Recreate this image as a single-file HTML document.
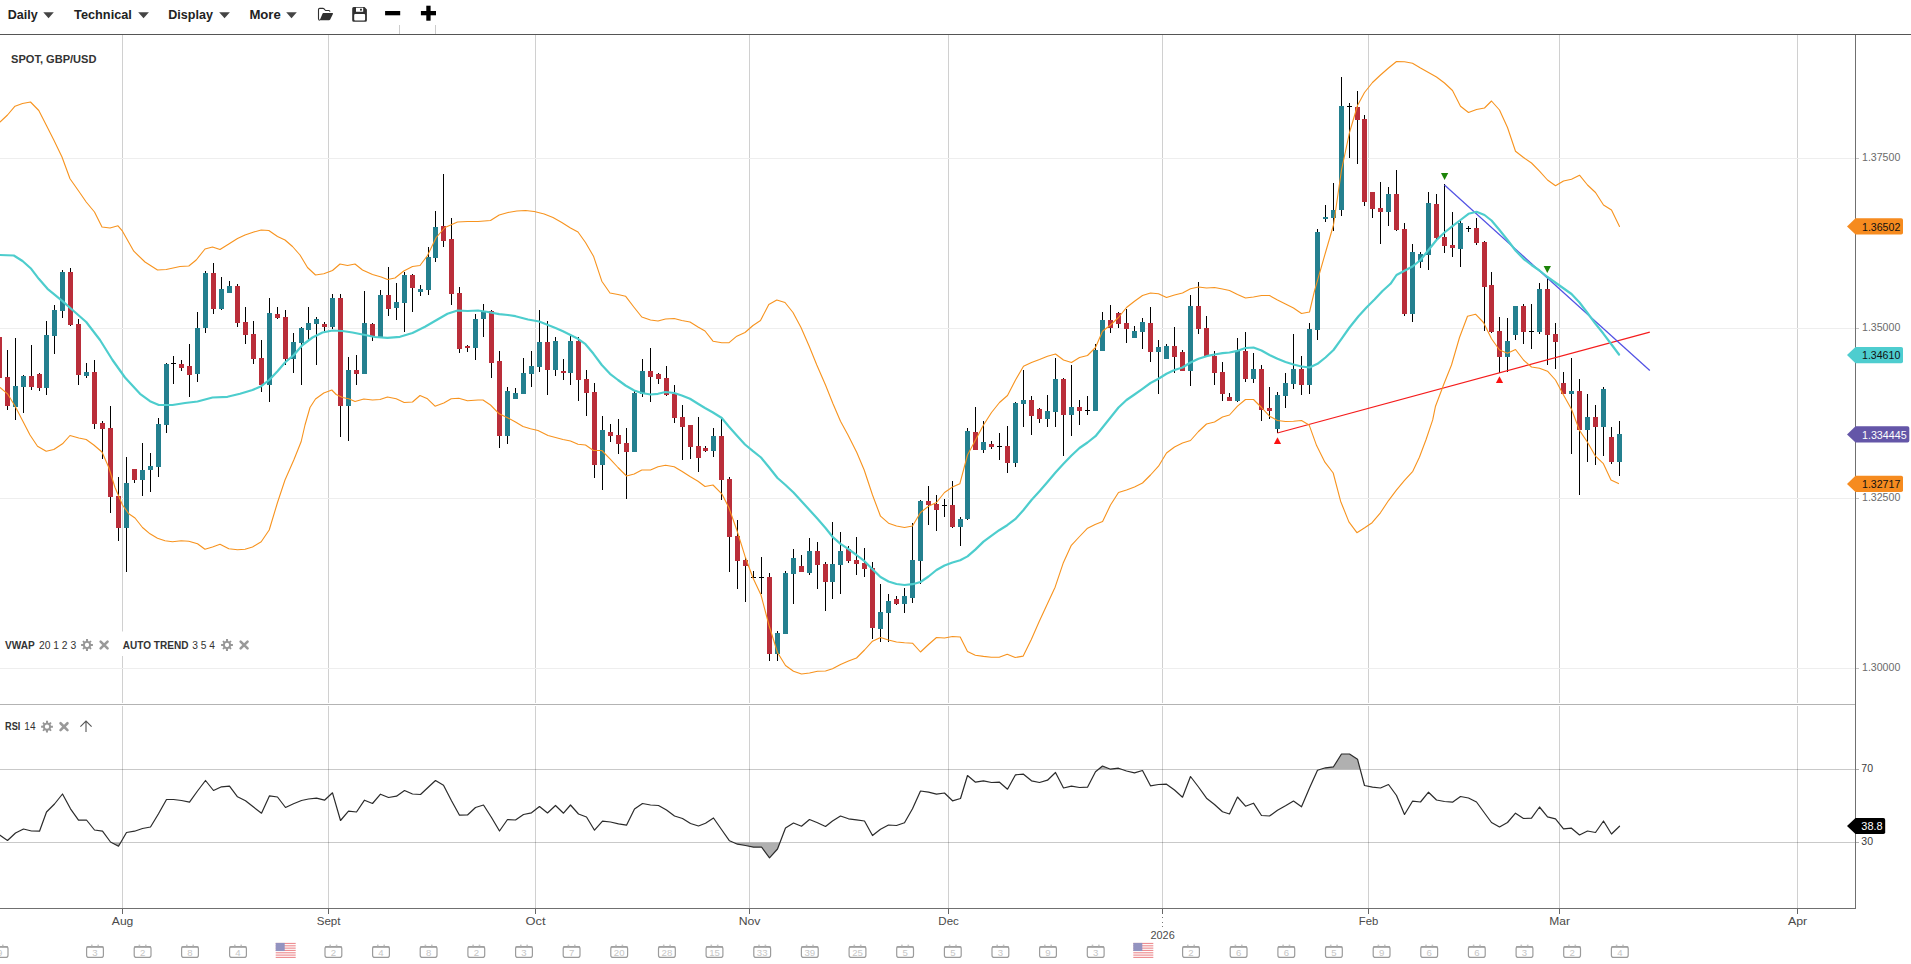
<!DOCTYPE html>
<html lang="en"><head><meta charset="utf-8"><title>SPOT, GBP/USD</title>
<style>html,body{margin:0;padding:0;background:#fff;}body{width:1911px;height:964px;position:relative;overflow:hidden;font-family:'Liberation Sans', sans-serif;}</style>
</head><body>
<svg width="1911" height="964" viewBox="0 0 1911 964" style="position:absolute;left:0;top:0;font-family:'Liberation Sans', sans-serif">
<rect width="1911" height="964" fill="#fff"/>
<g shape-rendering="crispEdges">
<rect x="122" y="35" width="1" height="668" fill="#d0d0d0"/>
<rect x="122" y="706" width="1" height="202" fill="#000" fill-opacity="0.185"/>
<rect x="122" y="909" width="1" height="5" fill="#666"/>
<rect x="328" y="35" width="1" height="668" fill="#d0d0d0"/>
<rect x="328" y="706" width="1" height="202" fill="#000" fill-opacity="0.185"/>
<rect x="328" y="909" width="1" height="5" fill="#666"/>
<rect x="535" y="35" width="1" height="668" fill="#d0d0d0"/>
<rect x="535" y="706" width="1" height="202" fill="#000" fill-opacity="0.185"/>
<rect x="535" y="909" width="1" height="5" fill="#666"/>
<rect x="749" y="35" width="1" height="668" fill="#d0d0d0"/>
<rect x="749" y="706" width="1" height="202" fill="#000" fill-opacity="0.185"/>
<rect x="749" y="909" width="1" height="5" fill="#666"/>
<rect x="948" y="35" width="1" height="668" fill="#d0d0d0"/>
<rect x="948" y="706" width="1" height="202" fill="#000" fill-opacity="0.185"/>
<rect x="948" y="909" width="1" height="5" fill="#666"/>
<rect x="1162" y="35" width="1" height="668" fill="#d0d0d0"/>
<rect x="1162" y="706" width="1" height="202" fill="#000" fill-opacity="0.185"/>
<rect x="1368" y="35" width="1" height="668" fill="#d0d0d0"/>
<rect x="1368" y="706" width="1" height="202" fill="#000" fill-opacity="0.185"/>
<rect x="1368" y="909" width="1" height="5" fill="#666"/>
<rect x="1559" y="35" width="1" height="668" fill="#d0d0d0"/>
<rect x="1559" y="706" width="1" height="202" fill="#000" fill-opacity="0.185"/>
<rect x="1559" y="909" width="1" height="5" fill="#666"/>
<rect x="1797" y="35" width="1" height="668" fill="#d0d0d0"/>
<rect x="1797" y="706" width="1" height="202" fill="#000" fill-opacity="0.185"/>
<rect x="1797" y="909" width="1" height="5" fill="#666"/>
<rect x="0" y="158" width="1855" height="1" fill="#eeeeee"/>
<rect x="1856" y="158" width="3" height="1" fill="#c4c4c4"/>
<rect x="0" y="328" width="1855" height="1" fill="#eeeeee"/>
<rect x="1856" y="328" width="3" height="1" fill="#c4c4c4"/>
<rect x="0" y="498" width="1855" height="1" fill="#eeeeee"/>
<rect x="1856" y="498" width="3" height="1" fill="#c4c4c4"/>
<rect x="0" y="668" width="1855" height="1" fill="#eeeeee"/>
<rect x="1856" y="668" width="3" height="1" fill="#c4c4c4"/>
<rect x="399" y="25" width="1" height="9" fill="#ccc"/><rect x="435" y="25" width="1" height="9" fill="#ccc"/>
<rect x="0" y="769" width="1855" height="1" fill="#000" fill-opacity="0.21"/>
<rect x="0" y="842" width="1855" height="1" fill="#000" fill-opacity="0.21"/>
<rect x="1856" y="769" width="3" height="1" fill="#b0b0b0"/><rect x="1856" y="842" width="3" height="1" fill="#b0b0b0"/>
<rect x="0" y="704" width="1856" height="1" fill="#b3b3b3"/>
<rect x="0" y="34" width="1911" height="1" fill="#555"/>
<rect x="1855" y="35" width="1" height="874" fill="#707070"/>
<rect x="0" y="908" width="1856" height="1" fill="#707070"/>
<rect x="1162" y="909" width="1" height="5" fill="#666"/>
<rect x="1162" y="917" width="1" height="1" fill="#777"/>
<rect x="1162" y="922" width="1" height="1" fill="#777"/>
<rect x="1162" y="926" width="1" height="1" fill="#777"/>
</g>
<g shape-rendering="crispEdges">
<rect x="-1" y="335" width="1" height="50" fill="#000"/>
<rect x="-3" y="337" width="5" height="41" fill="#ba2e3a"/>
<rect x="7" y="350" width="1" height="60" fill="#000"/>
<rect x="5" y="377" width="5" height="29" fill="#ba2e3a"/>
<rect x="15" y="338" width="1" height="82" fill="#000"/>
<rect x="13" y="386" width="5" height="21" fill="#24808f"/>
<rect x="23" y="375" width="1" height="38" fill="#000"/>
<rect x="21" y="376" width="5" height="11" fill="#24808f"/>
<rect x="31" y="345" width="1" height="45" fill="#000"/>
<rect x="29" y="376" width="5" height="11" fill="#ba2e3a"/>
<rect x="39" y="373" width="1" height="18" fill="#000"/>
<rect x="37" y="374" width="5" height="14" fill="#ba2e3a"/>
<rect x="46" y="321" width="1" height="74" fill="#000"/>
<rect x="44" y="335" width="5" height="53" fill="#24808f"/>
<rect x="54" y="305" width="1" height="49" fill="#000"/>
<rect x="52" y="310" width="5" height="26" fill="#24808f"/>
<rect x="62" y="270" width="1" height="48" fill="#000"/>
<rect x="60" y="272" width="5" height="39" fill="#24808f"/>
<rect x="70" y="268" width="1" height="58" fill="#000"/>
<rect x="68" y="272" width="5" height="53" fill="#ba2e3a"/>
<rect x="78" y="319" width="1" height="66" fill="#000"/>
<rect x="76" y="324" width="5" height="51" fill="#ba2e3a"/>
<rect x="86" y="363" width="1" height="15" fill="#000"/>
<rect x="84" y="372" width="5" height="4" fill="#24808f"/>
<rect x="94" y="360" width="1" height="69" fill="#000"/>
<rect x="92" y="372" width="5" height="52" fill="#ba2e3a"/>
<rect x="102" y="421" width="1" height="38" fill="#000"/>
<rect x="100" y="423" width="5" height="6" fill="#ba2e3a"/>
<rect x="110" y="406" width="1" height="107" fill="#000"/>
<rect x="108" y="428" width="5" height="69" fill="#ba2e3a"/>
<rect x="118" y="477" width="1" height="64" fill="#000"/>
<rect x="116" y="496" width="5" height="32" fill="#ba2e3a"/>
<rect x="126" y="457" width="1" height="115" fill="#000"/>
<rect x="124" y="483" width="5" height="45" fill="#24808f"/>
<rect x="134" y="469" width="1" height="14" fill="#000"/>
<rect x="132" y="469" width="5" height="11" fill="#ba2e3a"/>
<rect x="142" y="443" width="1" height="53" fill="#000"/>
<rect x="140" y="470" width="5" height="10" fill="#24808f"/>
<rect x="150" y="453" width="1" height="39" fill="#000"/>
<rect x="148" y="466" width="5" height="4" fill="#24808f"/>
<rect x="158" y="418" width="1" height="59" fill="#000"/>
<rect x="156" y="424" width="5" height="43" fill="#24808f"/>
<rect x="166" y="363" width="1" height="70" fill="#000"/>
<rect x="164" y="364" width="5" height="61" fill="#24808f"/>
<rect x="173" y="356" width="1" height="28" fill="#000"/>
<rect x="171" y="363" width="5" height="1" fill="#000"/>
<rect x="181" y="360" width="1" height="11" fill="#000"/>
<rect x="179" y="364" width="5" height="4" fill="#ba2e3a"/>
<rect x="189" y="344" width="1" height="53" fill="#000"/>
<rect x="187" y="366" width="5" height="9" fill="#ba2e3a"/>
<rect x="197" y="312" width="1" height="70" fill="#000"/>
<rect x="195" y="328" width="5" height="46" fill="#24808f"/>
<rect x="205" y="271" width="1" height="62" fill="#000"/>
<rect x="203" y="273" width="5" height="55" fill="#24808f"/>
<rect x="213" y="263" width="1" height="51" fill="#000"/>
<rect x="211" y="273" width="5" height="36" fill="#ba2e3a"/>
<rect x="221" y="277" width="1" height="33" fill="#000"/>
<rect x="219" y="289" width="5" height="20" fill="#24808f"/>
<rect x="229" y="281" width="1" height="12" fill="#000"/>
<rect x="227" y="286" width="5" height="7" fill="#24808f"/>
<rect x="237" y="284" width="1" height="43" fill="#000"/>
<rect x="235" y="286" width="5" height="37" fill="#ba2e3a"/>
<rect x="245" y="307" width="1" height="37" fill="#000"/>
<rect x="243" y="322" width="5" height="13" fill="#ba2e3a"/>
<rect x="253" y="321" width="1" height="43" fill="#000"/>
<rect x="251" y="334" width="5" height="25" fill="#ba2e3a"/>
<rect x="261" y="340" width="1" height="52" fill="#000"/>
<rect x="259" y="358" width="5" height="27" fill="#ba2e3a"/>
<rect x="269" y="298" width="1" height="104" fill="#000"/>
<rect x="267" y="313" width="5" height="72" fill="#24808f"/>
<rect x="277" y="307" width="1" height="12" fill="#000"/>
<rect x="275" y="314" width="5" height="4" fill="#ba2e3a"/>
<rect x="285" y="310" width="1" height="55" fill="#000"/>
<rect x="283" y="317" width="5" height="42" fill="#ba2e3a"/>
<rect x="293" y="333" width="1" height="40" fill="#000"/>
<rect x="291" y="342" width="5" height="17" fill="#24808f"/>
<rect x="301" y="327" width="1" height="58" fill="#000"/>
<rect x="299" y="328" width="5" height="15" fill="#24808f"/>
<rect x="308" y="307" width="1" height="33" fill="#000"/>
<rect x="306" y="323" width="5" height="7" fill="#24808f"/>
<rect x="316" y="317" width="1" height="48" fill="#000"/>
<rect x="314" y="319" width="5" height="5" fill="#24808f"/>
<rect x="324" y="322" width="1" height="9" fill="#000"/>
<rect x="322" y="324" width="5" height="3" fill="#ba2e3a"/>
<rect x="332" y="294" width="1" height="35" fill="#000"/>
<rect x="330" y="298" width="5" height="29" fill="#24808f"/>
<rect x="340" y="294" width="1" height="143" fill="#000"/>
<rect x="338" y="298" width="5" height="108" fill="#ba2e3a"/>
<rect x="348" y="357" width="1" height="84" fill="#000"/>
<rect x="346" y="370" width="5" height="36" fill="#24808f"/>
<rect x="356" y="355" width="1" height="30" fill="#000"/>
<rect x="354" y="370" width="5" height="4" fill="#ba2e3a"/>
<rect x="364" y="291" width="1" height="83" fill="#000"/>
<rect x="362" y="323" width="5" height="51" fill="#24808f"/>
<rect x="372" y="323" width="1" height="18" fill="#000"/>
<rect x="370" y="324" width="5" height="13" fill="#ba2e3a"/>
<rect x="380" y="290" width="1" height="47" fill="#000"/>
<rect x="378" y="295" width="5" height="42" fill="#24808f"/>
<rect x="388" y="267" width="1" height="49" fill="#000"/>
<rect x="386" y="295" width="5" height="14" fill="#ba2e3a"/>
<rect x="396" y="283" width="1" height="37" fill="#000"/>
<rect x="394" y="302" width="5" height="6" fill="#24808f"/>
<rect x="404" y="272" width="1" height="60" fill="#000"/>
<rect x="402" y="275" width="5" height="28" fill="#24808f"/>
<rect x="412" y="274" width="1" height="38" fill="#000"/>
<rect x="410" y="275" width="5" height="13" fill="#ba2e3a"/>
<rect x="420" y="285" width="1" height="11" fill="#000"/>
<rect x="418" y="289" width="5" height="3" fill="#24808f"/>
<rect x="428" y="247" width="1" height="48" fill="#000"/>
<rect x="426" y="257" width="5" height="33" fill="#24808f"/>
<rect x="435" y="211" width="1" height="51" fill="#000"/>
<rect x="433" y="227" width="5" height="31" fill="#24808f"/>
<rect x="443" y="174" width="1" height="73" fill="#000"/>
<rect x="441" y="226" width="5" height="15" fill="#ba2e3a"/>
<rect x="451" y="218" width="1" height="87" fill="#000"/>
<rect x="449" y="239" width="5" height="55" fill="#ba2e3a"/>
<rect x="459" y="287" width="1" height="66" fill="#000"/>
<rect x="457" y="293" width="5" height="56" fill="#ba2e3a"/>
<rect x="467" y="345" width="1" height="7" fill="#000"/>
<rect x="465" y="346" width="5" height="2" fill="#ba2e3a"/>
<rect x="475" y="314" width="1" height="46" fill="#000"/>
<rect x="473" y="319" width="5" height="29" fill="#24808f"/>
<rect x="483" y="304" width="1" height="33" fill="#000"/>
<rect x="481" y="311" width="5" height="8" fill="#24808f"/>
<rect x="491" y="310" width="1" height="68" fill="#000"/>
<rect x="489" y="311" width="5" height="52" fill="#ba2e3a"/>
<rect x="499" y="351" width="1" height="97" fill="#000"/>
<rect x="497" y="361" width="5" height="75" fill="#ba2e3a"/>
<rect x="507" y="387" width="1" height="57" fill="#000"/>
<rect x="505" y="391" width="5" height="45" fill="#24808f"/>
<rect x="515" y="388" width="1" height="11" fill="#000"/>
<rect x="513" y="393" width="5" height="6" fill="#24808f"/>
<rect x="523" y="358" width="1" height="36" fill="#000"/>
<rect x="521" y="373" width="5" height="21" fill="#24808f"/>
<rect x="531" y="351" width="1" height="36" fill="#000"/>
<rect x="529" y="366" width="5" height="8" fill="#24808f"/>
<rect x="539" y="310" width="1" height="62" fill="#000"/>
<rect x="537" y="342" width="5" height="25" fill="#24808f"/>
<rect x="547" y="321" width="1" height="74" fill="#000"/>
<rect x="545" y="342" width="5" height="28" fill="#ba2e3a"/>
<rect x="555" y="337" width="1" height="39" fill="#000"/>
<rect x="553" y="341" width="5" height="29" fill="#24808f"/>
<rect x="563" y="359" width="1" height="21" fill="#000"/>
<rect x="561" y="371" width="5" height="2" fill="#ba2e3a"/>
<rect x="570" y="335" width="1" height="50" fill="#000"/>
<rect x="568" y="341" width="5" height="32" fill="#24808f"/>
<rect x="578" y="337" width="1" height="64" fill="#000"/>
<rect x="576" y="341" width="5" height="39" fill="#ba2e3a"/>
<rect x="586" y="370" width="1" height="46" fill="#000"/>
<rect x="584" y="379" width="5" height="14" fill="#ba2e3a"/>
<rect x="594" y="383" width="1" height="95" fill="#000"/>
<rect x="592" y="392" width="5" height="73" fill="#ba2e3a"/>
<rect x="602" y="416" width="1" height="74" fill="#000"/>
<rect x="600" y="430" width="5" height="35" fill="#24808f"/>
<rect x="610" y="424" width="1" height="18" fill="#000"/>
<rect x="608" y="432" width="5" height="4" fill="#ba2e3a"/>
<rect x="618" y="419" width="1" height="35" fill="#000"/>
<rect x="616" y="435" width="5" height="9" fill="#ba2e3a"/>
<rect x="626" y="428" width="1" height="71" fill="#000"/>
<rect x="624" y="443" width="5" height="9" fill="#ba2e3a"/>
<rect x="634" y="391" width="1" height="61" fill="#000"/>
<rect x="632" y="393" width="5" height="59" fill="#24808f"/>
<rect x="642" y="359" width="1" height="38" fill="#000"/>
<rect x="640" y="371" width="5" height="23" fill="#24808f"/>
<rect x="650" y="348" width="1" height="54" fill="#000"/>
<rect x="648" y="371" width="5" height="6" fill="#ba2e3a"/>
<rect x="658" y="373" width="1" height="11" fill="#000"/>
<rect x="656" y="374" width="5" height="5" fill="#ba2e3a"/>
<rect x="666" y="366" width="1" height="30" fill="#000"/>
<rect x="664" y="378" width="5" height="17" fill="#ba2e3a"/>
<rect x="674" y="385" width="1" height="38" fill="#000"/>
<rect x="672" y="394" width="5" height="24" fill="#ba2e3a"/>
<rect x="682" y="405" width="1" height="55" fill="#000"/>
<rect x="680" y="417" width="5" height="10" fill="#ba2e3a"/>
<rect x="690" y="425" width="1" height="34" fill="#000"/>
<rect x="688" y="425" width="5" height="22" fill="#ba2e3a"/>
<rect x="698" y="417" width="1" height="55" fill="#000"/>
<rect x="696" y="446" width="5" height="12" fill="#ba2e3a"/>
<rect x="705" y="446" width="1" height="6" fill="#000"/>
<rect x="703" y="448" width="5" height="3" fill="#ba2e3a"/>
<rect x="713" y="428" width="1" height="29" fill="#000"/>
<rect x="711" y="436" width="5" height="15" fill="#24808f"/>
<rect x="721" y="418" width="1" height="82" fill="#000"/>
<rect x="719" y="436" width="5" height="44" fill="#ba2e3a"/>
<rect x="729" y="477" width="1" height="95" fill="#000"/>
<rect x="727" y="479" width="5" height="58" fill="#ba2e3a"/>
<rect x="737" y="520" width="1" height="69" fill="#000"/>
<rect x="735" y="536" width="5" height="25" fill="#ba2e3a"/>
<rect x="745" y="557" width="1" height="45" fill="#000"/>
<rect x="743" y="560" width="5" height="6" fill="#ba2e3a"/>
<rect x="753" y="571" width="1" height="7" fill="#000"/>
<rect x="751" y="577" width="5" height="1" fill="#000"/>
<rect x="761" y="557" width="1" height="37" fill="#000"/>
<rect x="759" y="577" width="5" height="1" fill="#000"/>
<rect x="769" y="573" width="1" height="88" fill="#000"/>
<rect x="767" y="577" width="5" height="77" fill="#ba2e3a"/>
<rect x="777" y="631" width="1" height="30" fill="#000"/>
<rect x="775" y="633" width="5" height="21" fill="#24808f"/>
<rect x="785" y="571" width="1" height="63" fill="#000"/>
<rect x="783" y="573" width="5" height="61" fill="#24808f"/>
<rect x="793" y="549" width="1" height="55" fill="#000"/>
<rect x="791" y="558" width="5" height="16" fill="#24808f"/>
<rect x="801" y="555" width="1" height="17" fill="#000"/>
<rect x="799" y="566" width="5" height="6" fill="#ba2e3a"/>
<rect x="809" y="538" width="1" height="37" fill="#000"/>
<rect x="807" y="551" width="5" height="22" fill="#24808f"/>
<rect x="817" y="542" width="1" height="47" fill="#000"/>
<rect x="815" y="551" width="5" height="14" fill="#ba2e3a"/>
<rect x="825" y="562" width="1" height="49" fill="#000"/>
<rect x="823" y="564" width="5" height="18" fill="#ba2e3a"/>
<rect x="832" y="522" width="1" height="77" fill="#000"/>
<rect x="830" y="564" width="5" height="18" fill="#24808f"/>
<rect x="840" y="532" width="1" height="62" fill="#000"/>
<rect x="838" y="551" width="5" height="14" fill="#24808f"/>
<rect x="848" y="546" width="1" height="17" fill="#000"/>
<rect x="846" y="549" width="5" height="12" fill="#ba2e3a"/>
<rect x="856" y="537" width="1" height="38" fill="#000"/>
<rect x="854" y="560" width="5" height="4" fill="#ba2e3a"/>
<rect x="864" y="548" width="1" height="29" fill="#000"/>
<rect x="862" y="563" width="5" height="6" fill="#ba2e3a"/>
<rect x="872" y="562" width="1" height="77" fill="#000"/>
<rect x="870" y="568" width="5" height="60" fill="#ba2e3a"/>
<rect x="880" y="584" width="1" height="58" fill="#000"/>
<rect x="878" y="612" width="5" height="17" fill="#24808f"/>
<rect x="888" y="594" width="1" height="48" fill="#000"/>
<rect x="886" y="601" width="5" height="12" fill="#24808f"/>
<rect x="896" y="596" width="1" height="9" fill="#000"/>
<rect x="894" y="599" width="5" height="5" fill="#ba2e3a"/>
<rect x="904" y="588" width="1" height="25" fill="#000"/>
<rect x="902" y="596" width="5" height="8" fill="#24808f"/>
<rect x="912" y="523" width="1" height="80" fill="#000"/>
<rect x="910" y="560" width="5" height="38" fill="#24808f"/>
<rect x="920" y="500" width="1" height="84" fill="#000"/>
<rect x="918" y="501" width="5" height="60" fill="#24808f"/>
<rect x="928" y="486" width="1" height="39" fill="#000"/>
<rect x="926" y="501" width="5" height="4" fill="#ba2e3a"/>
<rect x="936" y="495" width="1" height="36" fill="#000"/>
<rect x="934" y="504" width="5" height="6" fill="#ba2e3a"/>
<rect x="944" y="499" width="1" height="18" fill="#000"/>
<rect x="942" y="505" width="5" height="1" fill="#000"/>
<rect x="952" y="481" width="1" height="47" fill="#000"/>
<rect x="950" y="505" width="5" height="22" fill="#ba2e3a"/>
<rect x="960" y="517" width="1" height="29" fill="#000"/>
<rect x="958" y="519" width="5" height="8" fill="#24808f"/>
<rect x="967" y="428" width="1" height="92" fill="#000"/>
<rect x="965" y="431" width="5" height="88" fill="#24808f"/>
<rect x="975" y="407" width="1" height="43" fill="#000"/>
<rect x="973" y="432" width="5" height="18" fill="#ba2e3a"/>
<rect x="983" y="421" width="1" height="32" fill="#000"/>
<rect x="981" y="442" width="5" height="8" fill="#24808f"/>
<rect x="991" y="441" width="1" height="8" fill="#000"/>
<rect x="989" y="444" width="5" height="3" fill="#ba2e3a"/>
<rect x="999" y="433" width="1" height="27" fill="#000"/>
<rect x="997" y="446" width="5" height="1" fill="#000"/>
<rect x="1007" y="426" width="1" height="47" fill="#000"/>
<rect x="1005" y="446" width="5" height="17" fill="#ba2e3a"/>
<rect x="1015" y="402" width="1" height="65" fill="#000"/>
<rect x="1013" y="403" width="5" height="60" fill="#24808f"/>
<rect x="1023" y="370" width="1" height="57" fill="#000"/>
<rect x="1021" y="400" width="5" height="4" fill="#24808f"/>
<rect x="1031" y="396" width="1" height="39" fill="#000"/>
<rect x="1029" y="400" width="5" height="16" fill="#ba2e3a"/>
<rect x="1039" y="408" width="1" height="15" fill="#000"/>
<rect x="1037" y="409" width="5" height="10" fill="#ba2e3a"/>
<rect x="1047" y="395" width="1" height="32" fill="#000"/>
<rect x="1045" y="411" width="5" height="8" fill="#24808f"/>
<rect x="1055" y="358" width="1" height="69" fill="#000"/>
<rect x="1053" y="379" width="5" height="33" fill="#24808f"/>
<rect x="1063" y="378" width="1" height="78" fill="#000"/>
<rect x="1061" y="379" width="5" height="36" fill="#ba2e3a"/>
<rect x="1071" y="365" width="1" height="71" fill="#000"/>
<rect x="1069" y="407" width="5" height="8" fill="#24808f"/>
<rect x="1079" y="400" width="1" height="25" fill="#000"/>
<rect x="1077" y="407" width="5" height="4" fill="#ba2e3a"/>
<rect x="1087" y="396" width="1" height="19" fill="#000"/>
<rect x="1085" y="410" width="5" height="1" fill="#000"/>
<rect x="1095" y="344" width="1" height="67" fill="#000"/>
<rect x="1093" y="350" width="5" height="61" fill="#24808f"/>
<rect x="1102" y="312" width="1" height="39" fill="#000"/>
<rect x="1100" y="320" width="5" height="31" fill="#24808f"/>
<rect x="1110" y="305" width="1" height="28" fill="#000"/>
<rect x="1108" y="320" width="5" height="8" fill="#ba2e3a"/>
<rect x="1118" y="312" width="1" height="16" fill="#000"/>
<rect x="1116" y="313" width="5" height="11" fill="#ba2e3a"/>
<rect x="1126" y="309" width="1" height="34" fill="#000"/>
<rect x="1124" y="323" width="5" height="6" fill="#ba2e3a"/>
<rect x="1134" y="326" width="1" height="12" fill="#000"/>
<rect x="1132" y="331" width="5" height="7" fill="#24808f"/>
<rect x="1142" y="318" width="1" height="31" fill="#000"/>
<rect x="1140" y="322" width="5" height="10" fill="#24808f"/>
<rect x="1150" y="307" width="1" height="55" fill="#000"/>
<rect x="1148" y="323" width="5" height="29" fill="#ba2e3a"/>
<rect x="1158" y="340" width="1" height="54" fill="#000"/>
<rect x="1156" y="347" width="5" height="5" fill="#24808f"/>
<rect x="1166" y="344" width="1" height="15" fill="#000"/>
<rect x="1164" y="346" width="5" height="13" fill="#24808f"/>
<rect x="1174" y="327" width="1" height="46" fill="#000"/>
<rect x="1172" y="346" width="5" height="11" fill="#ba2e3a"/>
<rect x="1182" y="350" width="1" height="21" fill="#000"/>
<rect x="1180" y="352" width="5" height="19" fill="#ba2e3a"/>
<rect x="1190" y="295" width="1" height="91" fill="#000"/>
<rect x="1188" y="306" width="5" height="65" fill="#24808f"/>
<rect x="1198" y="282" width="1" height="52" fill="#000"/>
<rect x="1196" y="306" width="5" height="23" fill="#ba2e3a"/>
<rect x="1206" y="316" width="1" height="40" fill="#000"/>
<rect x="1204" y="328" width="5" height="28" fill="#ba2e3a"/>
<rect x="1214" y="351" width="1" height="34" fill="#000"/>
<rect x="1212" y="356" width="5" height="17" fill="#ba2e3a"/>
<rect x="1222" y="362" width="1" height="39" fill="#000"/>
<rect x="1220" y="372" width="5" height="22" fill="#ba2e3a"/>
<rect x="1229" y="393" width="1" height="8" fill="#000"/>
<rect x="1227" y="397" width="5" height="4" fill="#ba2e3a"/>
<rect x="1237" y="338" width="1" height="64" fill="#000"/>
<rect x="1235" y="351" width="5" height="50" fill="#24808f"/>
<rect x="1245" y="332" width="1" height="50" fill="#000"/>
<rect x="1243" y="351" width="5" height="28" fill="#ba2e3a"/>
<rect x="1253" y="353" width="1" height="30" fill="#000"/>
<rect x="1251" y="369" width="5" height="10" fill="#24808f"/>
<rect x="1261" y="365" width="1" height="56" fill="#000"/>
<rect x="1259" y="369" width="5" height="41" fill="#ba2e3a"/>
<rect x="1269" y="387" width="1" height="32" fill="#000"/>
<rect x="1267" y="408" width="5" height="3" fill="#ba2e3a"/>
<rect x="1277" y="392" width="1" height="41" fill="#000"/>
<rect x="1275" y="395" width="5" height="34" fill="#24808f"/>
<rect x="1285" y="373" width="1" height="35" fill="#000"/>
<rect x="1283" y="383" width="5" height="13" fill="#24808f"/>
<rect x="1293" y="334" width="1" height="55" fill="#000"/>
<rect x="1291" y="369" width="5" height="15" fill="#24808f"/>
<rect x="1301" y="356" width="1" height="39" fill="#000"/>
<rect x="1299" y="369" width="5" height="16" fill="#ba2e3a"/>
<rect x="1309" y="323" width="1" height="71" fill="#000"/>
<rect x="1307" y="329" width="5" height="56" fill="#24808f"/>
<rect x="1317" y="229" width="1" height="111" fill="#000"/>
<rect x="1315" y="232" width="5" height="98" fill="#24808f"/>
<rect x="1325" y="205" width="1" height="17" fill="#000"/>
<rect x="1323" y="217" width="5" height="2" fill="#24808f"/>
<rect x="1333" y="183" width="1" height="48" fill="#000"/>
<rect x="1331" y="210" width="5" height="8" fill="#24808f"/>
<rect x="1341" y="77" width="1" height="139" fill="#000"/>
<rect x="1339" y="106" width="5" height="104" fill="#24808f"/>
<rect x="1349" y="103" width="1" height="55" fill="#000"/>
<rect x="1347" y="106" width="5" height="1" fill="#000"/>
<rect x="1357" y="91" width="1" height="73" fill="#000"/>
<rect x="1355" y="107" width="5" height="13" fill="#ba2e3a"/>
<rect x="1364" y="115" width="1" height="91" fill="#000"/>
<rect x="1362" y="119" width="5" height="83" fill="#ba2e3a"/>
<rect x="1372" y="192" width="1" height="26" fill="#000"/>
<rect x="1370" y="192" width="5" height="17" fill="#ba2e3a"/>
<rect x="1380" y="182" width="1" height="62" fill="#000"/>
<rect x="1378" y="208" width="5" height="4" fill="#ba2e3a"/>
<rect x="1388" y="187" width="1" height="39" fill="#000"/>
<rect x="1386" y="194" width="5" height="18" fill="#24808f"/>
<rect x="1396" y="170" width="1" height="61" fill="#000"/>
<rect x="1394" y="194" width="5" height="36" fill="#ba2e3a"/>
<rect x="1404" y="223" width="1" height="93" fill="#000"/>
<rect x="1402" y="229" width="5" height="85" fill="#ba2e3a"/>
<rect x="1412" y="244" width="1" height="78" fill="#000"/>
<rect x="1410" y="252" width="5" height="62" fill="#24808f"/>
<rect x="1420" y="252" width="1" height="16" fill="#000"/>
<rect x="1418" y="254" width="5" height="8" fill="#24808f"/>
<rect x="1428" y="192" width="1" height="78" fill="#000"/>
<rect x="1426" y="203" width="5" height="52" fill="#24808f"/>
<rect x="1436" y="194" width="1" height="45" fill="#000"/>
<rect x="1434" y="204" width="5" height="34" fill="#ba2e3a"/>
<rect x="1444" y="184" width="1" height="69" fill="#000"/>
<rect x="1442" y="237" width="5" height="9" fill="#ba2e3a"/>
<rect x="1452" y="212" width="1" height="45" fill="#000"/>
<rect x="1450" y="245" width="5" height="3" fill="#ba2e3a"/>
<rect x="1460" y="220" width="1" height="47" fill="#000"/>
<rect x="1458" y="223" width="5" height="26" fill="#24808f"/>
<rect x="1468" y="226" width="1" height="6" fill="#000"/>
<rect x="1466" y="228" width="5" height="1" fill="#000"/>
<rect x="1476" y="218" width="1" height="27" fill="#000"/>
<rect x="1474" y="228" width="5" height="15" fill="#ba2e3a"/>
<rect x="1484" y="241" width="1" height="90" fill="#000"/>
<rect x="1482" y="242" width="5" height="45" fill="#ba2e3a"/>
<rect x="1491" y="272" width="1" height="61" fill="#000"/>
<rect x="1489" y="285" width="5" height="47" fill="#ba2e3a"/>
<rect x="1499" y="317" width="1" height="56" fill="#000"/>
<rect x="1497" y="331" width="5" height="26" fill="#ba2e3a"/>
<rect x="1507" y="318" width="1" height="54" fill="#000"/>
<rect x="1505" y="341" width="5" height="16" fill="#24808f"/>
<rect x="1515" y="306" width="1" height="34" fill="#000"/>
<rect x="1513" y="306" width="5" height="29" fill="#24808f"/>
<rect x="1523" y="304" width="1" height="40" fill="#000"/>
<rect x="1521" y="306" width="5" height="26" fill="#ba2e3a"/>
<rect x="1531" y="304" width="1" height="45" fill="#000"/>
<rect x="1529" y="331" width="5" height="1" fill="#000"/>
<rect x="1539" y="283" width="1" height="51" fill="#000"/>
<rect x="1537" y="289" width="5" height="43" fill="#24808f"/>
<rect x="1547" y="277" width="1" height="88" fill="#000"/>
<rect x="1545" y="289" width="5" height="46" fill="#ba2e3a"/>
<rect x="1555" y="323" width="1" height="46" fill="#000"/>
<rect x="1553" y="334" width="5" height="8" fill="#ba2e3a"/>
<rect x="1563" y="372" width="1" height="22" fill="#000"/>
<rect x="1561" y="383" width="5" height="11" fill="#ba2e3a"/>
<rect x="1571" y="358" width="1" height="96" fill="#000"/>
<rect x="1569" y="391" width="5" height="3" fill="#24808f"/>
<rect x="1579" y="379" width="1" height="116" fill="#000"/>
<rect x="1577" y="391" width="5" height="39" fill="#ba2e3a"/>
<rect x="1587" y="394" width="1" height="68" fill="#000"/>
<rect x="1585" y="417" width="5" height="13" fill="#24808f"/>
<rect x="1595" y="405" width="1" height="60" fill="#000"/>
<rect x="1593" y="417" width="5" height="10" fill="#ba2e3a"/>
<rect x="1603" y="387" width="1" height="69" fill="#000"/>
<rect x="1601" y="389" width="5" height="38" fill="#24808f"/>
<rect x="1611" y="427" width="1" height="37" fill="#000"/>
<rect x="1609" y="437" width="5" height="25" fill="#ba2e3a"/>
<rect x="1619" y="421" width="1" height="55" fill="#000"/>
<rect x="1617" y="434" width="5" height="28" fill="#24808f"/>
</g>
<line x1="1277.4" y1="433" x2="1649.8" y2="332.1" stroke="#f51c1c" stroke-width="1.2"/>
<line x1="1444.5" y1="185" x2="1649.8" y2="370.5" stroke="#5252e4" stroke-width="1.25"/>
<polyline points="0.0,122.0 7.5,115.0 15.0,106.2 22.5,103.5 30.5,102.0 38.8,110.5 46.2,125.0 53.8,140.0 62.0,157.0 70.0,178.8 78.8,191.2 86.2,202.0 94.5,212.0 102.0,227.0 110.0,228.0 118.0,225.8 122.5,231.2 133.8,251.2 145.0,262.0 157.5,270.0 166.2,269.5 180.0,266.5 188.8,266.0 196.2,260.0 205.0,249.0 212.5,247.0 220.0,249.5 228.8,244.0 237.5,238.5 245.0,235.0 253.8,232.0 261.2,230.0 268.8,230.5 277.5,236.5 285.0,240.0 292.5,246.5 300.0,255.0 307.5,267.5 315.5,275.0 323.8,273.8 332.5,270.5 340.0,264.0 347.5,265.5 355.0,264.0 362.5,270.0 372.5,274.5 381.2,277.0 387.5,279.5 395.0,278.0 403.8,271.0 412.5,266.5 420.0,265.5 427.5,255.5 436.2,237.5 445.0,227.5 457.5,222.0 467.5,221.5 478.0,221.5 490.5,220.5 499.2,215.0 508.0,212.5 516.8,211.0 525.5,210.5 534.2,211.5 544.2,214.0 553.0,217.5 561.8,222.5 570.5,228.0 578.0,232.0 585.5,242.5 593.5,256.2 601.8,281.2 610.0,293.0 618.0,294.5 625.5,296.2 634.2,307.5 641.8,317.0 650.5,320.0 658.0,321.0 665.5,319.0 674.2,318.5 681.8,320.5 690.0,322.0 698.0,327.0 705.0,331.0 713.0,341.2 721.8,342.8 728.8,342.8 736.8,336.2 745.0,332.5 753.0,325.5 760.5,320.5 768.8,304.5 776.8,300.0 785.0,302.5 793.0,312.5 801.0,327.5 809.2,346.2 816.8,365.0 825.5,385.0 833.0,403.8 840.5,421.2 848.0,435.0 856.8,452.5 864.2,470.0 872.5,495.0 880.5,516.2 888.5,523.2 896.5,526.0 904.5,527.5 912.5,526.0 920.5,512.5 928.5,506.2 936.5,502.5 944.5,492.5 952.5,487.0 959.8,483.8 967.5,455.0 975.5,440.0 983.5,425.0 991.5,412.5 999.5,402.5 1007.5,395.5 1015.5,380.0 1023.5,366.2 1031.5,362.5 1039.5,359.5 1047.5,356.2 1055.5,354.0 1063.5,360.0 1071.5,362.5 1079.5,357.5 1087.5,355.5 1095.5,347.5 1102.5,331.2 1110.5,325.0 1118.5,317.5 1126.5,307.5 1134.5,301.2 1142.5,295.5 1150.5,293.0 1158.5,293.8 1166.5,297.5 1174.5,295.0 1182.5,293.0 1190.5,288.8 1198.5,287.0 1206.5,288.0 1214.5,287.5 1222.5,289.0 1229.5,290.5 1237.5,294.5 1245.5,298.0 1253.5,297.0 1261.5,295.5 1269.5,295.5 1277.5,300.0 1285.5,304.0 1293.5,308.0 1301.5,313.5 1309.5,312.0 1314.5,290.8 1325.5,252.5 1333.5,225.0 1341.5,170.0 1349.5,132.5 1357.5,105.5 1364.5,92.5 1372.5,82.5 1380.5,75.0 1388.5,68.0 1396.5,61.5 1404.5,61.8 1412.5,63.2 1420.5,68.0 1428.5,72.5 1436.5,77.0 1444.5,83.0 1452.5,90.5 1460.5,106.2 1468.5,112.5 1476.5,109.5 1484.5,108.0 1491.5,101.0 1499.5,110.0 1507.5,127.5 1515.5,151.2 1523.5,157.5 1531.5,163.0 1539.5,171.2 1547.5,180.0 1555.5,185.8 1563.5,181.0 1571.5,179.2 1579.5,175.2 1587.5,185.0 1595.5,192.5 1603.5,205.0 1611.5,210.0 1619.5,226.5" fill="none" stroke="#f7931e" stroke-width="1.1" stroke-linejoin="round" stroke-linecap="round" />
<polyline points="0.0,387.5 7.5,393.8 15.0,406.0 22.5,420.5 30.0,435.0 37.5,446.2 46.2,451.2 53.8,449.5 62.5,443.8 70.0,435.5 78.8,438.0 86.2,439.5 93.8,445.0 102.0,452.0 108.8,467.5 115.0,487.5 122.5,505.0 128.8,513.8 135.0,518.0 142.5,527.5 150.0,533.8 157.5,538.2 165.0,540.8 172.5,541.8 181.2,540.8 188.8,541.2 197.5,543.8 205.0,549.2 212.5,547.0 220.0,544.2 228.8,548.8 237.5,549.8 245.0,549.2 252.5,547.0 261.2,541.8 269.2,530.0 277.5,502.5 285.0,480.0 293.8,460.0 301.2,441.5 305.0,425.0 310.0,407.5 315.5,399.0 323.8,393.0 331.8,390.0 336.2,394.5 342.5,397.5 348.8,398.8 355.0,401.5 363.8,399.0 372.5,400.0 380.0,399.5 387.5,397.0 396.2,398.8 404.2,402.5 412.5,402.0 420.0,395.5 427.5,398.8 435.0,406.2 443.8,403.0 451.2,398.8 458.8,398.2 467.5,400.8 478.0,400.0 483.0,400.0 490.5,405.0 499.2,413.8 508.0,418.0 515.5,422.0 523.0,426.5 530.5,428.8 538.0,430.5 548.0,435.5 563.0,439.5 570.5,441.0 578.0,444.2 585.5,445.0 593.5,450.5 601.8,450.5 610.0,458.8 618.0,467.5 626.5,476.0 634.2,474.0 641.8,470.0 650.5,470.0 658.0,466.8 665.5,465.2 674.2,466.8 681.8,471.2 690.0,476.5 698.0,481.2 705.0,486.5 713.0,485.0 721.8,493.8 728.8,507.5 736.8,530.0 745.0,556.2 753.0,578.0 761.0,595.0 769.2,626.0 777.5,652.5 785.5,665.5 793.5,671.2 801.5,674.0 809.5,673.0 817.5,671.2 825.5,671.0 832.5,668.8 840.5,664.5 848.5,661.0 856.5,658.0 864.5,650.0 872.5,641.2 880.5,637.5 888.5,640.0 896.5,642.0 904.5,642.8 912.5,643.2 920.5,652.0 928.5,644.5 936.5,637.5 944.5,638.0 952.5,636.5 960.2,637.0 967.5,651.6 975.3,655.2 983.5,656.4 991.3,657.3 999.2,657.3 1007.2,654.3 1015.2,657.5 1023.2,656.1 1031.2,639.7 1039.2,621.5 1047.2,604.3 1055.1,587.2 1063.1,563.3 1071.1,545.7 1079.1,537.0 1087.1,528.6 1095.1,524.5 1102.6,521.5 1110.5,505.0 1118.5,492.5 1126.5,490.0 1134.5,487.0 1142.5,483.0 1150.5,475.0 1158.5,466.2 1166.5,453.0 1174.5,447.0 1182.5,443.0 1190.5,440.5 1198.5,431.5 1206.5,424.0 1214.5,422.0 1222.5,417.0 1229.5,415.0 1237.5,406.2 1245.5,399.5 1253.5,399.5 1261.5,407.5 1269.5,416.2 1277.5,420.5 1285.5,421.5 1293.5,421.2 1301.5,420.5 1309.1,424.9 1316.6,445.6 1324.9,462.2 1333.2,473.0 1340.6,501.2 1348.9,521.9 1356.9,532.7 1364.7,527.7 1372.1,522.7 1380.4,512.8 1388.7,500.3 1396.2,490.4 1404.5,480.4 1412.8,471.3 1419.4,457.2 1426.0,439.8 1432.7,419.9 1435.5,406.2 1443.5,385.0 1451.5,365.0 1459.5,337.5 1467.5,316.2 1475.5,314.2 1483.5,322.5 1491.5,338.8 1499.5,350.0 1507.5,353.2 1515.5,349.5 1523.5,360.0 1531.5,367.0 1539.5,368.2 1547.5,371.2 1555.5,380.0 1563.5,395.0 1571.5,409.3 1579.5,430.4 1587.5,442.2 1595.5,456.2 1603.4,463.7 1611.0,480.0 1618.5,483.6" fill="none" stroke="#f7931e" stroke-width="1.1" stroke-linejoin="round" stroke-linecap="round" />
<polyline points="0.0,255.0 13.8,255.5 22.5,261.0 31.2,268.8 38.8,278.8 47.5,288.8 62.5,301.2 72.5,310.0 86.2,322.0 100.0,340.0 112.5,360.0 125.0,377.5 140.0,393.8 150.0,401.2 158.8,405.0 172.5,405.0 185.0,403.0 197.5,401.5 212.5,397.5 227.5,396.8 240.0,393.8 252.5,390.0 261.2,386.2 269.2,380.0 277.5,371.2 285.0,362.5 293.8,355.0 302.5,345.0 312.5,337.5 322.5,332.5 332.5,330.5 342.5,331.0 352.5,332.5 365.0,335.0 375.0,337.0 387.5,337.8 400.0,336.8 412.5,333.0 425.0,326.8 437.5,319.5 447.5,313.8 457.5,310.5 467.5,311.0 478.0,310.5 488.0,312.0 499.2,314.2 508.0,315.0 515.5,316.2 528.0,319.5 539.2,321.5 548.0,325.0 555.5,328.0 563.0,331.2 570.5,335.0 578.0,338.8 585.5,344.2 593.5,353.8 601.8,365.0 610.0,373.8 618.0,380.0 625.5,385.5 634.2,390.5 641.8,393.0 650.5,394.5 658.0,393.8 665.5,392.0 674.2,393.0 681.8,395.5 690.0,398.8 698.0,403.8 705.0,408.0 713.0,412.5 721.8,418.0 728.8,426.5 736.8,435.5 745.0,444.5 753.0,451.2 761.0,457.5 769.2,467.5 777.5,478.0 785.5,485.0 793.5,492.5 801.5,501.2 809.5,510.0 817.5,518.8 825.5,528.0 832.5,536.8 840.5,543.8 848.5,549.2 856.5,555.0 864.5,561.2 872.5,569.2 880.5,577.0 888.5,581.5 896.5,584.0 904.5,585.0 912.5,584.2 920.5,582.0 928.5,576.5 936.5,570.0 944.5,565.5 952.5,562.5 960.2,560.3 967.5,556.4 975.3,549.6 983.5,541.6 991.3,535.9 999.2,530.2 1007.2,525.2 1015.2,519.2 1023.5,510.0 1031.5,500.0 1039.5,491.2 1047.5,482.0 1055.5,472.5 1063.5,463.8 1071.5,455.5 1079.5,448.0 1087.5,442.5 1095.5,436.2 1102.5,427.5 1110.5,417.5 1118.5,407.5 1126.5,400.0 1134.5,394.5 1142.5,388.8 1150.5,383.0 1158.5,378.8 1166.5,373.8 1174.5,370.0 1182.5,367.5 1190.5,362.5 1198.5,358.8 1206.5,356.2 1214.5,354.5 1222.5,353.2 1229.5,352.5 1237.5,350.8 1245.5,348.0 1253.5,347.5 1261.5,350.5 1269.5,355.0 1277.5,358.8 1285.5,362.0 1293.5,364.5 1301.5,366.5 1309.5,367.5 1317.5,363.8 1325.5,357.5 1333.5,350.0 1341.5,338.8 1349.5,327.5 1358.5,316.2 1366.5,307.5 1374.5,299.5 1382.5,291.0 1390.5,283.8 1396.5,275.0 1412.5,266.5 1420.5,260.0 1428.5,250.0 1436.5,240.0 1444.5,232.5 1452.5,226.2 1460.5,220.0 1468.5,213.8 1476.5,211.8 1484.5,215.0 1491.5,220.5 1499.5,230.0 1507.5,240.0 1515.5,250.5 1523.5,258.8 1531.5,265.0 1539.5,270.5 1547.5,277.0 1559.5,285.5 1571.5,294.0 1579.5,302.5 1587.5,313.0 1595.5,323.8 1603.5,333.8 1611.5,344.5 1619.0,354.5" fill="none" stroke="#4dcdcd" stroke-width="2.2" stroke-linejoin="round" stroke-linecap="round" />
<polygon points="1277.5,437.2 1273.9,444.09999999999997 1281.1,444.09999999999997" fill="#fb1010"/>
<polygon points="1499.5,376.2 1495.9,383.09999999999997 1503.1,383.09999999999997" fill="#fb1010"/>
<polygon points="1440.9499999999998,173 1448.25,173 1444.6,179.9" fill="#1c8408"/>
<polygon points="1543.6499999999999,266 1550.95,266 1547.3,272.9" fill="#1c8408"/>
<polygon points="1098.2,769.5 1102.5,766.0 1110.5,769.2 1118.5,768.2 1122.1,769.5" fill="#b0b0b0"/>
<polygon points="1319.9,769.5 1325.5,767.8 1333.5,766.8 1341.5,754.0 1349.5,754.0 1357.5,759.2 1360.2,769.5" fill="#b0b0b0"/>
<polygon points="111.4,842.5 118.5,846.2 120.7,842.5" fill="#b0b0b0"/>
<polygon points="733.5,842.5 737.5,844.2 745.5,845.5 753.5,847.2 761.5,847.0 769.5,857.8 777.5,849.0 780.0,842.5" fill="#b0b0b0"/>
<polyline points="-0.5,835.0 7.5,840.5 15.5,833.0 23.5,829.0 31.5,831.0 39.5,831.2 46.5,812.0 54.5,804.0 62.5,794.0 70.5,808.8 78.5,820.2 86.5,820.0 94.5,830.0 102.5,831.2 110.5,842.0 118.5,846.2 126.5,832.5 134.5,831.2 142.5,828.5 150.5,827.0 158.5,813.8 166.5,799.5 173.5,799.5 181.5,800.5 189.5,802.2 197.5,791.0 205.5,780.5 213.5,790.5 221.5,786.8 229.5,786.2 237.5,796.8 245.5,800.8 253.5,807.0 261.5,813.2 269.5,795.8 277.5,797.0 285.5,807.5 293.5,803.8 301.5,800.5 308.5,799.0 316.5,798.2 324.5,800.2 332.5,792.8 340.5,820.5 348.5,811.2 356.5,812.0 364.5,800.2 372.5,803.5 380.5,794.2 388.5,797.5 396.5,796.2 404.5,790.5 412.5,794.0 420.5,794.5 428.5,787.0 435.5,780.5 443.5,785.2 451.5,800.8 459.5,815.2 467.5,815.0 475.5,807.5 483.5,805.0 491.5,817.5 499.5,831.0 507.5,819.5 515.5,820.0 523.5,814.5 531.5,812.8 539.5,806.5 547.5,813.0 555.5,805.5 563.5,813.2 570.5,805.0 578.5,814.0 586.5,817.0 594.5,830.2 602.5,821.2 610.5,822.0 618.5,823.8 626.5,825.2 634.5,809.0 642.5,803.5 650.5,805.0 658.5,805.5 666.5,810.0 674.5,816.0 682.5,818.5 690.5,823.5 698.5,826.0 705.5,823.2 713.5,818.0 721.5,829.5 729.5,840.8 737.5,844.2 745.5,845.5 753.5,847.2 761.5,847.0 769.5,857.8 777.5,849.0 785.5,828.0 793.5,823.0 801.5,826.2 809.5,819.5 817.5,822.8 825.5,826.5 832.5,821.0 840.5,816.0 848.5,818.8 856.5,819.8 864.5,821.0 872.5,835.5 880.5,829.2 888.5,825.0 896.5,825.5 904.5,822.8 912.5,808.8 920.5,791.0 928.5,792.2 936.5,794.2 944.5,793.0 952.5,800.8 960.5,798.5 967.5,775.5 975.5,782.2 983.5,780.8 991.5,782.5 999.5,782.2 1007.5,789.2 1015.5,774.8 1023.5,774.2 1031.5,780.8 1039.5,782.5 1047.5,780.2 1055.5,772.5 1063.5,788.0 1071.5,786.2 1079.5,787.5 1087.5,787.2 1095.5,771.8 1102.5,766.0 1110.5,769.2 1118.5,768.2 1126.5,771.0 1134.5,772.8 1142.5,770.5 1150.5,785.8 1158.5,784.5 1166.5,784.2 1174.5,790.0 1182.5,797.2 1190.5,776.5 1198.5,787.0 1206.5,798.2 1214.5,804.5 1222.5,811.8 1229.5,814.0 1237.5,797.0 1245.5,806.2 1253.5,803.2 1261.5,815.5 1269.5,816.0 1277.5,810.2 1285.5,805.8 1293.5,801.0 1301.5,806.8 1309.5,788.0 1317.5,770.2 1325.5,767.8 1333.5,766.8 1341.5,754.0 1349.5,754.0 1357.5,759.2 1364.5,785.5 1372.5,787.2 1380.5,788.0 1388.5,784.5 1396.5,795.5 1404.5,814.5 1412.5,801.2 1420.5,802.0 1428.5,792.2 1436.5,800.0 1444.5,801.5 1452.5,802.2 1460.5,796.5 1468.5,798.0 1476.5,802.0 1484.5,813.0 1491.5,822.5 1499.5,827.0 1507.5,822.5 1515.5,813.2 1523.5,818.5 1531.5,818.2 1539.5,807.0 1547.5,816.8 1555.5,818.8 1563.5,828.8 1571.5,828.2 1579.5,835.0 1587.5,831.0 1595.5,832.5 1603.5,821.0 1611.5,834.0 1619.5,826.2" fill="none" stroke="#2b2b2b" stroke-width="1.2" stroke-linejoin="round" stroke-linecap="round" />
<text x="1862" y="161.1" font-size="11" fill="#6a6a6a" font-weight="normal" text-anchor="start" textLength="38.3" lengthAdjust="spacingAndGlyphs" >1.37500</text>
<text x="1862" y="331.1" font-size="11" fill="#6a6a6a" font-weight="normal" text-anchor="start" textLength="38.3" lengthAdjust="spacingAndGlyphs" >1.35000</text>
<text x="1862" y="501.1" font-size="11" fill="#6a6a6a" font-weight="normal" text-anchor="start" textLength="38.3" lengthAdjust="spacingAndGlyphs" >1.32500</text>
<text x="1862" y="670.6" font-size="11" fill="#6a6a6a" font-weight="normal" text-anchor="start" textLength="38.3" lengthAdjust="spacingAndGlyphs" >1.30000</text>
<text x="1861.3" y="771.9" font-size="11" fill="#3a3a3a" font-weight="normal" text-anchor="start" textLength="11.7" lengthAdjust="spacingAndGlyphs" >70</text>
<text x="1861.3" y="844.9" font-size="11" fill="#3a3a3a" font-weight="normal" text-anchor="start" textLength="11.7" lengthAdjust="spacingAndGlyphs" >30</text>
<text x="111.85" y="925" font-size="10.8" fill="#4a4a4a" font-weight="normal" text-anchor="start" textLength="21.5" lengthAdjust="spacingAndGlyphs" >Aug</text>
<text x="316.725" y="925" font-size="10.8" fill="#4a4a4a" font-weight="normal" text-anchor="start" textLength="23.75" lengthAdjust="spacingAndGlyphs" >Sept</text>
<text x="525.6" y="925" font-size="10.8" fill="#4a4a4a" font-weight="normal" text-anchor="start" textLength="20" lengthAdjust="spacingAndGlyphs" >Oct</text>
<text x="738.725" y="925" font-size="10.8" fill="#4a4a4a" font-weight="normal" text-anchor="start" textLength="21.75" lengthAdjust="spacingAndGlyphs" >Nov</text>
<text x="938.35" y="925" font-size="10.8" fill="#4a4a4a" font-weight="normal" text-anchor="start" textLength="20.5" lengthAdjust="spacingAndGlyphs" >Dec</text>
<text x="1358.85" y="925" font-size="10.8" fill="#4a4a4a" font-weight="normal" text-anchor="start" textLength="19.5" lengthAdjust="spacingAndGlyphs" >Feb</text>
<text x="1549.225" y="925" font-size="10.8" fill="#4a4a4a" font-weight="normal" text-anchor="start" textLength="20.75" lengthAdjust="spacingAndGlyphs" >Mar</text>
<text x="1787.975" y="925" font-size="10.8" fill="#4a4a4a" font-weight="normal" text-anchor="start" textLength="19.25" lengthAdjust="spacingAndGlyphs" >Apr</text>
<text x="1150.475" y="939" font-size="10.8" fill="#4a4a4a" font-weight="normal" text-anchor="start" textLength="24.25" lengthAdjust="spacingAndGlyphs" >2026</text>
<path d="M1847,226.4 L1855.5,218.3 L1901.2,218.3 Q1903,218.3 1903,220.10000000000002 L1903,232.7 Q1903,234.5 1901.2,234.5 L1855.5,234.5 Z" fill="#f68b1f"/>
<text x="1862" y="230.6" font-size="11" fill="#111" font-weight="normal" text-anchor="start" textLength="38.3" lengthAdjust="spacingAndGlyphs" >1.36502</text>
<path d="M1847,355.1 L1855.5,347.0 L1901.2,347.0 Q1903,347.0 1903,348.8 L1903,361.40000000000003 Q1903,363.20000000000005 1901.2,363.20000000000005 L1855.5,363.20000000000005 Z" fill="#4ecdcf"/>
<text x="1862" y="359.3" font-size="11" fill="#111" font-weight="normal" text-anchor="start" textLength="38.3" lengthAdjust="spacingAndGlyphs" >1.34610</text>
<path d="M1847,434.4 L1855.5,426.29999999999995 L1907.5,426.29999999999995 Q1909.3,426.29999999999995 1909.3,428.09999999999997 L1909.3,440.7 Q1909.3,442.5 1907.5,442.5 L1855.5,442.5 Z" fill="#6456a8"/>
<text x="1862" y="438.59999999999997" font-size="11" fill="#fff" font-weight="normal" text-anchor="start" textLength="44.6" lengthAdjust="spacingAndGlyphs" >1.334445</text>
<path d="M1847,483.9 L1855.5,475.79999999999995 L1901.2,475.79999999999995 Q1903,475.79999999999995 1903,477.59999999999997 L1903,490.2 Q1903,492.0 1901.2,492.0 L1855.5,492.0 Z" fill="#f68b1f"/>
<text x="1862" y="488.09999999999997" font-size="11" fill="#111" font-weight="normal" text-anchor="start" textLength="38.3" lengthAdjust="spacingAndGlyphs" >1.32717</text>
<path d="M1847,826.1 L1855.5,818.1 L1883.4,818.1 Q1885.2,818.1 1885.2,819.9 L1885.2,832.3000000000001 Q1885.2,834.1 1883.4,834.1 L1855.5,834.1 Z" fill="#000"/>
<text x="1861.3" y="829.9" font-size="11" fill="#fff" font-weight="normal" text-anchor="start" textLength="21.3" lengthAdjust="spacingAndGlyphs" >38.8</text>
<text x="11" y="63" font-size="11.5" fill="#333" font-weight="bold" text-anchor="start" textLength="85.5" lengthAdjust="spacingAndGlyphs" >SPOT, GBP/USD</text>
<rect x="2" y="631.5" width="252" height="24.5" fill="#fff"/>
<text x="5" y="648.8" font-size="10" fill="#333" font-weight="bold" text-anchor="start" textLength="29.7" lengthAdjust="spacingAndGlyphs" >VWAP</text>
<text x="38.9" y="648.8" font-size="10" fill="#333" font-weight="normal" text-anchor="start" textLength="37.3" lengthAdjust="spacingAndGlyphs" >20 1 2 3</text>
<path d="M92.91,643.98 L92.91,646.02 L91.00,646.11 L90.61,647.05 L91.61,648.55 L90.55,649.61 L89.19,648.53 L87.95,649.04 L88.02,650.91 L85.98,650.91 L85.89,649.00 L84.95,648.61 L83.45,649.61 L82.39,648.55 L83.47,647.19 L82.96,645.95 L81.09,646.02 L81.09,643.98 L83.00,643.89 L83.39,642.95 L82.39,641.45 L83.45,640.39 L84.81,641.47 L86.05,640.96 L85.98,639.09 L88.02,639.09 L88.11,641.00 L89.05,641.39 L90.55,640.39 L91.61,641.45 L90.53,642.81 L91.04,644.05 Z M89.15,645 A2.15,2.15 0 1 0 84.85,645 A2.15,2.15 0 1 0 89.15,645 Z" fill="#979797" fill-rule="evenodd"/>
<path d="M100.64999999999999,641.55 L107.55,648.45 M107.55,641.55 L100.64999999999999,648.45" stroke="#999" stroke-width="2.6" stroke-linecap="round" fill="none"/>
<text x="122.8" y="648.8" font-size="10" fill="#333" font-weight="bold" text-anchor="start" textLength="65.6" lengthAdjust="spacingAndGlyphs" >AUTO TREND</text>
<text x="192.3" y="648.8" font-size="10" fill="#333" font-weight="normal" text-anchor="start" textLength="22.7" lengthAdjust="spacingAndGlyphs" >3 5 4</text>
<path d="M232.91,643.98 L232.91,646.02 L231.00,646.11 L230.61,647.05 L231.61,648.55 L230.55,649.61 L229.19,648.53 L227.95,649.04 L228.02,650.91 L225.98,650.91 L225.89,649.00 L224.95,648.61 L223.45,649.61 L222.39,648.55 L223.47,647.19 L222.96,645.95 L221.09,646.02 L221.09,643.98 L223.00,643.89 L223.39,642.95 L222.39,641.45 L223.45,640.39 L224.81,641.47 L226.05,640.96 L225.98,639.09 L228.02,639.09 L228.11,641.00 L229.05,641.39 L230.55,640.39 L231.61,641.45 L230.53,642.81 L231.04,644.05 Z M229.15,645 A2.15,2.15 0 1 0 224.85,645 A2.15,2.15 0 1 0 229.15,645 Z" fill="#979797" fill-rule="evenodd"/>
<path d="M240.65,641.55 L247.54999999999998,648.45 M247.54999999999998,641.55 L240.65,648.45" stroke="#999" stroke-width="2.6" stroke-linecap="round" fill="none"/>
<text x="5" y="730.2" font-size="10" fill="#333" font-weight="bold" text-anchor="start" textLength="15.3" lengthAdjust="spacingAndGlyphs" >RSI</text>
<text x="24.3" y="730.2" font-size="10" fill="#333" font-weight="normal" text-anchor="start" textLength="11.2" lengthAdjust="spacingAndGlyphs" >14</text>
<path d="M52.91,725.68 L52.91,727.72 L51.00,727.81 L50.61,728.75 L51.61,730.25 L50.55,731.31 L49.19,730.23 L47.95,730.74 L48.02,732.61 L45.98,732.61 L45.89,730.70 L44.95,730.31 L43.45,731.31 L42.39,730.25 L43.47,728.89 L42.96,727.65 L41.09,727.72 L41.09,725.68 L43.00,725.59 L43.39,724.65 L42.39,723.15 L43.45,722.09 L44.81,723.17 L46.05,722.66 L45.98,720.79 L48.02,720.79 L48.11,722.70 L49.05,723.09 L50.55,722.09 L51.61,723.15 L50.53,724.51 L51.04,725.75 Z M49.15,726.7 A2.15,2.15 0 1 0 44.85,726.7 A2.15,2.15 0 1 0 49.15,726.7 Z" fill="#979797" fill-rule="evenodd"/>
<path d="M60.55,723.25 L67.45,730.1500000000001 M67.45,723.25 L60.55,730.1500000000001" stroke="#999" stroke-width="2.6" stroke-linecap="round" fill="none"/>
<path d="M86,732 L86,721.2 M80.4,726.6 L86,721 L91.6,726.6" stroke="#555" stroke-width="1.1" fill="none"/>
<text x="7.8" y="18.8" font-size="12.5" fill="#222" font-weight="bold" text-anchor="start" textLength="29.9" lengthAdjust="spacingAndGlyphs" >Daily</text>
<polygon points="43.3,12.2 53.8,12.2 48.55,18.2" fill="#444"/>
<text x="74.1" y="18.8" font-size="12.5" fill="#222" font-weight="bold" text-anchor="start" textLength="57.8" lengthAdjust="spacingAndGlyphs" >Technical</text>
<polygon points="138.2,12.2 148.9,12.2 143.55,18.2" fill="#444"/>
<text x="168.3" y="18.8" font-size="12.5" fill="#222" font-weight="bold" text-anchor="start" textLength="44.6" lengthAdjust="spacingAndGlyphs" >Display</text>
<polygon points="219.2,12.2 229.9,12.2 224.55,18.2" fill="#444"/>
<text x="249.4" y="18.8" font-size="12.5" fill="#222" font-weight="bold" text-anchor="start" textLength="31.4" lengthAdjust="spacingAndGlyphs" >More</text>
<polygon points="286.2,12.2 296.8,12.2 291.5,18.2" fill="#444"/>
<path d="M319.9,20.3 Q318.5,20.2 318.5,18.8 L318.5,9.6 Q318.5,8.4 319.7,8.4 L322.9,8.4 Q323.6,8.4 324.1,8.9 L325.2,10.1 Q325.6,10.5 326.2,10.5 L328.9,10.5 Q329.9,10.5 329.9,11.7" fill="none" stroke="#303030" stroke-width="1.1"/>
<path d="M323.4,13.1 L332.4,13.1 Q333.3,13.1 332.9,14 L330.2,19.6 Q329.8,20.3 329,20.3 L319.7,20.3 L322.4,13.9 Q322.7,13.1 323.4,13.1 Z" fill="#303030"/>
<path d="M353.7,6.9 L364.5,6.9 L366.9,9.4 L366.9,20.3 Q366.9,21.8 365.4,21.8 L353.7,21.8 Q352.2,21.8 352.2,20.3 L352.2,8.4 Q352.2,6.9 353.7,6.9 Z M356,7.7 L363.2,7.7 L363.2,11.7 L356,11.7 Z M355.2,14.1 L364.1,14.1 Q365.1,14.1 365.1,15.1 L365.1,19.4 Q365.1,20.4 364.1,20.4 L355.2,20.4 Q354.2,20.4 354.2,19.4 L354.2,15.1 Q354.2,14.1 355.2,14.1 Z" fill="#303030" fill-rule="evenodd"/><rect x="360" y="8.75" width="1.9" height="1.85" fill="#303030"/>
<rect x="385.1" y="11" width="15.1" height="4.3" fill="#000"/>
<rect x="420.9" y="11" width="15.1" height="4.3" fill="#000"/><rect x="426.3" y="5.7" width="4.3" height="15" fill="#000"/>
<rect x="-8.8" y="946.5" width="16.8" height="10.9" rx="2.2" fill="#fff" stroke="#9c9c9c" stroke-width="1.2"/>
<rect x="-4.4" y="944.6" width="1.6" height="2.8" fill="#c4c4c4"/><rect x="2.0" y="944.6" width="1.6" height="2.8" fill="#c4c4c4"/>
<rect x="-8.8" y="946.2" width="16.8" height="1.6" fill="#a0a0a0"/>
<text x="-0.4" y="956" font-size="9.6" fill="#c6c6c6" font-weight="normal" text-anchor="middle" >9</text>
<rect x="86.6" y="946.5" width="16.8" height="10.9" rx="2.2" fill="#fff" stroke="#9c9c9c" stroke-width="1.2"/>
<rect x="91" y="944.6" width="1.6" height="2.8" fill="#c4c4c4"/><rect x="97.4" y="944.6" width="1.6" height="2.8" fill="#c4c4c4"/>
<rect x="86.6" y="946.2" width="16.8" height="1.6" fill="#a0a0a0"/>
<text x="95" y="956" font-size="9.6" fill="#c6c6c6" font-weight="normal" text-anchor="middle" >3</text>
<rect x="134.2" y="946.5" width="16.8" height="10.9" rx="2.2" fill="#fff" stroke="#9c9c9c" stroke-width="1.2"/>
<rect x="138.6" y="944.6" width="1.6" height="2.8" fill="#c4c4c4"/><rect x="145.0" y="944.6" width="1.6" height="2.8" fill="#c4c4c4"/>
<rect x="134.2" y="946.2" width="16.8" height="1.6" fill="#a0a0a0"/>
<text x="142.6" y="956" font-size="9.6" fill="#c6c6c6" font-weight="normal" text-anchor="middle" >2</text>
<rect x="181.6" y="946.5" width="16.8" height="10.9" rx="2.2" fill="#fff" stroke="#9c9c9c" stroke-width="1.2"/>
<rect x="186" y="944.6" width="1.6" height="2.8" fill="#c4c4c4"/><rect x="192.4" y="944.6" width="1.6" height="2.8" fill="#c4c4c4"/>
<rect x="181.6" y="946.2" width="16.8" height="1.6" fill="#a0a0a0"/>
<text x="190" y="956" font-size="9.6" fill="#c6c6c6" font-weight="normal" text-anchor="middle" >8</text>
<rect x="229.6" y="946.5" width="16.8" height="10.9" rx="2.2" fill="#fff" stroke="#9c9c9c" stroke-width="1.2"/>
<rect x="234" y="944.6" width="1.6" height="2.8" fill="#c4c4c4"/><rect x="240.4" y="944.6" width="1.6" height="2.8" fill="#c4c4c4"/>
<rect x="229.6" y="946.2" width="16.8" height="1.6" fill="#a0a0a0"/>
<text x="238" y="956" font-size="9.6" fill="#c6c6c6" font-weight="normal" text-anchor="middle" >4</text>
<g opacity="0.55"><rect x="275.7" y="942.9" width="20" height="15.1" fill="#fff"/>
<rect x="275.7" y="942.90" width="20" height="1.16" fill="#e0323a"/>
<rect x="275.7" y="945.22" width="20" height="1.16" fill="#e0323a"/>
<rect x="275.7" y="947.55" width="20" height="1.16" fill="#e0323a"/>
<rect x="275.7" y="949.87" width="20" height="1.16" fill="#e0323a"/>
<rect x="275.7" y="952.19" width="20" height="1.16" fill="#e0323a"/>
<rect x="275.7" y="954.52" width="20" height="1.16" fill="#e0323a"/>
<rect x="275.7" y="956.84" width="20" height="1.16" fill="#e0323a"/>
<rect x="275.7" y="942.9" width="9" height="8.13" fill="#3c3b8e"/></g>
<rect x="325.0" y="946.5" width="16.8" height="10.9" rx="2.2" fill="#fff" stroke="#9c9c9c" stroke-width="1.2"/>
<rect x="329.4" y="944.6" width="1.6" height="2.8" fill="#c4c4c4"/><rect x="335.79999999999995" y="944.6" width="1.6" height="2.8" fill="#c4c4c4"/>
<rect x="325.0" y="946.2" width="16.8" height="1.6" fill="#a0a0a0"/>
<text x="333.4" y="956" font-size="9.6" fill="#c6c6c6" font-weight="normal" text-anchor="middle" >2</text>
<rect x="372.6" y="946.5" width="16.8" height="10.9" rx="2.2" fill="#fff" stroke="#9c9c9c" stroke-width="1.2"/>
<rect x="377" y="944.6" width="1.6" height="2.8" fill="#c4c4c4"/><rect x="383.4" y="944.6" width="1.6" height="2.8" fill="#c4c4c4"/>
<rect x="372.6" y="946.2" width="16.8" height="1.6" fill="#a0a0a0"/>
<text x="381" y="956" font-size="9.6" fill="#c6c6c6" font-weight="normal" text-anchor="middle" >4</text>
<rect x="420.20000000000005" y="946.5" width="16.8" height="10.9" rx="2.2" fill="#fff" stroke="#9c9c9c" stroke-width="1.2"/>
<rect x="424.6" y="944.6" width="1.6" height="2.8" fill="#c4c4c4"/><rect x="431.0" y="944.6" width="1.6" height="2.8" fill="#c4c4c4"/>
<rect x="420.20000000000005" y="946.2" width="16.8" height="1.6" fill="#a0a0a0"/>
<text x="428.6" y="956" font-size="9.6" fill="#c6c6c6" font-weight="normal" text-anchor="middle" >8</text>
<rect x="467.90000000000003" y="946.5" width="16.8" height="10.9" rx="2.2" fill="#fff" stroke="#9c9c9c" stroke-width="1.2"/>
<rect x="472.3" y="944.6" width="1.6" height="2.8" fill="#c4c4c4"/><rect x="478.7" y="944.6" width="1.6" height="2.8" fill="#c4c4c4"/>
<rect x="467.90000000000003" y="946.2" width="16.8" height="1.6" fill="#a0a0a0"/>
<text x="476.3" y="956" font-size="9.6" fill="#c6c6c6" font-weight="normal" text-anchor="middle" >2</text>
<rect x="515.6" y="946.5" width="16.8" height="10.9" rx="2.2" fill="#fff" stroke="#9c9c9c" stroke-width="1.2"/>
<rect x="520" y="944.6" width="1.6" height="2.8" fill="#c4c4c4"/><rect x="526.4" y="944.6" width="1.6" height="2.8" fill="#c4c4c4"/>
<rect x="515.6" y="946.2" width="16.8" height="1.6" fill="#a0a0a0"/>
<text x="524" y="956" font-size="9.6" fill="#c6c6c6" font-weight="normal" text-anchor="middle" >3</text>
<rect x="563.2" y="946.5" width="16.8" height="10.9" rx="2.2" fill="#fff" stroke="#9c9c9c" stroke-width="1.2"/>
<rect x="567.6" y="944.6" width="1.6" height="2.8" fill="#c4c4c4"/><rect x="574.0" y="944.6" width="1.6" height="2.8" fill="#c4c4c4"/>
<rect x="563.2" y="946.2" width="16.8" height="1.6" fill="#a0a0a0"/>
<text x="571.6" y="956" font-size="9.6" fill="#c6c6c6" font-weight="normal" text-anchor="middle" >7</text>
<rect x="610.8000000000001" y="946.5" width="16.8" height="10.9" rx="2.2" fill="#fff" stroke="#9c9c9c" stroke-width="1.2"/>
<rect x="615.2" y="944.6" width="1.6" height="2.8" fill="#c4c4c4"/><rect x="621.6" y="944.6" width="1.6" height="2.8" fill="#c4c4c4"/>
<rect x="610.8000000000001" y="946.2" width="16.8" height="1.6" fill="#a0a0a0"/>
<text x="619.2" y="956" font-size="9.6" fill="#c6c6c6" font-weight="normal" text-anchor="middle" >20</text>
<rect x="658.5" y="946.5" width="16.8" height="10.9" rx="2.2" fill="#fff" stroke="#9c9c9c" stroke-width="1.2"/>
<rect x="662.9" y="944.6" width="1.6" height="2.8" fill="#c4c4c4"/><rect x="669.3" y="944.6" width="1.6" height="2.8" fill="#c4c4c4"/>
<rect x="658.5" y="946.2" width="16.8" height="1.6" fill="#a0a0a0"/>
<text x="666.9" y="956" font-size="9.6" fill="#c6c6c6" font-weight="normal" text-anchor="middle" >28</text>
<rect x="706.1" y="946.5" width="16.8" height="10.9" rx="2.2" fill="#fff" stroke="#9c9c9c" stroke-width="1.2"/>
<rect x="710.5" y="944.6" width="1.6" height="2.8" fill="#c4c4c4"/><rect x="716.9" y="944.6" width="1.6" height="2.8" fill="#c4c4c4"/>
<rect x="706.1" y="946.2" width="16.8" height="1.6" fill="#a0a0a0"/>
<text x="714.5" y="956" font-size="9.6" fill="#c6c6c6" font-weight="normal" text-anchor="middle" >15</text>
<rect x="753.8000000000001" y="946.5" width="16.8" height="10.9" rx="2.2" fill="#fff" stroke="#9c9c9c" stroke-width="1.2"/>
<rect x="758.2" y="944.6" width="1.6" height="2.8" fill="#c4c4c4"/><rect x="764.6" y="944.6" width="1.6" height="2.8" fill="#c4c4c4"/>
<rect x="753.8000000000001" y="946.2" width="16.8" height="1.6" fill="#a0a0a0"/>
<text x="762.2" y="956" font-size="9.6" fill="#c6c6c6" font-weight="normal" text-anchor="middle" >33</text>
<rect x="801.4" y="946.5" width="16.8" height="10.9" rx="2.2" fill="#fff" stroke="#9c9c9c" stroke-width="1.2"/>
<rect x="805.8" y="944.6" width="1.6" height="2.8" fill="#c4c4c4"/><rect x="812.1999999999999" y="944.6" width="1.6" height="2.8" fill="#c4c4c4"/>
<rect x="801.4" y="946.2" width="16.8" height="1.6" fill="#a0a0a0"/>
<text x="809.8" y="956" font-size="9.6" fill="#c6c6c6" font-weight="normal" text-anchor="middle" >39</text>
<rect x="849.1" y="946.5" width="16.8" height="10.9" rx="2.2" fill="#fff" stroke="#9c9c9c" stroke-width="1.2"/>
<rect x="853.5" y="944.6" width="1.6" height="2.8" fill="#c4c4c4"/><rect x="859.9" y="944.6" width="1.6" height="2.8" fill="#c4c4c4"/>
<rect x="849.1" y="946.2" width="16.8" height="1.6" fill="#a0a0a0"/>
<text x="857.5" y="956" font-size="9.6" fill="#c6c6c6" font-weight="normal" text-anchor="middle" >25</text>
<rect x="896.7" y="946.5" width="16.8" height="10.9" rx="2.2" fill="#fff" stroke="#9c9c9c" stroke-width="1.2"/>
<rect x="901.1" y="944.6" width="1.6" height="2.8" fill="#c4c4c4"/><rect x="907.5" y="944.6" width="1.6" height="2.8" fill="#c4c4c4"/>
<rect x="896.7" y="946.2" width="16.8" height="1.6" fill="#a0a0a0"/>
<text x="905.1" y="956" font-size="9.6" fill="#c6c6c6" font-weight="normal" text-anchor="middle" >5</text>
<rect x="944.4" y="946.5" width="16.8" height="10.9" rx="2.2" fill="#fff" stroke="#9c9c9c" stroke-width="1.2"/>
<rect x="948.8" y="944.6" width="1.6" height="2.8" fill="#c4c4c4"/><rect x="955.1999999999999" y="944.6" width="1.6" height="2.8" fill="#c4c4c4"/>
<rect x="944.4" y="946.2" width="16.8" height="1.6" fill="#a0a0a0"/>
<text x="952.8" y="956" font-size="9.6" fill="#c6c6c6" font-weight="normal" text-anchor="middle" >5</text>
<rect x="992.0" y="946.5" width="16.8" height="10.9" rx="2.2" fill="#fff" stroke="#9c9c9c" stroke-width="1.2"/>
<rect x="996.4" y="944.6" width="1.6" height="2.8" fill="#c4c4c4"/><rect x="1002.8" y="944.6" width="1.6" height="2.8" fill="#c4c4c4"/>
<rect x="992.0" y="946.2" width="16.8" height="1.6" fill="#a0a0a0"/>
<text x="1000.4" y="956" font-size="9.6" fill="#c6c6c6" font-weight="normal" text-anchor="middle" >3</text>
<rect x="1039.6" y="946.5" width="16.8" height="10.9" rx="2.2" fill="#fff" stroke="#9c9c9c" stroke-width="1.2"/>
<rect x="1044" y="944.6" width="1.6" height="2.8" fill="#c4c4c4"/><rect x="1050.4" y="944.6" width="1.6" height="2.8" fill="#c4c4c4"/>
<rect x="1039.6" y="946.2" width="16.8" height="1.6" fill="#a0a0a0"/>
<text x="1048" y="956" font-size="9.6" fill="#c6c6c6" font-weight="normal" text-anchor="middle" >9</text>
<rect x="1087.3" y="946.5" width="16.8" height="10.9" rx="2.2" fill="#fff" stroke="#9c9c9c" stroke-width="1.2"/>
<rect x="1091.7" y="944.6" width="1.6" height="2.8" fill="#c4c4c4"/><rect x="1098.1000000000001" y="944.6" width="1.6" height="2.8" fill="#c4c4c4"/>
<rect x="1087.3" y="946.2" width="16.8" height="1.6" fill="#a0a0a0"/>
<text x="1095.7" y="956" font-size="9.6" fill="#c6c6c6" font-weight="normal" text-anchor="middle" >3</text>
<g opacity="0.55"><rect x="1133.3" y="942.9" width="20" height="15.1" fill="#fff"/>
<rect x="1133.3" y="942.90" width="20" height="1.16" fill="#e0323a"/>
<rect x="1133.3" y="945.22" width="20" height="1.16" fill="#e0323a"/>
<rect x="1133.3" y="947.55" width="20" height="1.16" fill="#e0323a"/>
<rect x="1133.3" y="949.87" width="20" height="1.16" fill="#e0323a"/>
<rect x="1133.3" y="952.19" width="20" height="1.16" fill="#e0323a"/>
<rect x="1133.3" y="954.52" width="20" height="1.16" fill="#e0323a"/>
<rect x="1133.3" y="956.84" width="20" height="1.16" fill="#e0323a"/>
<rect x="1133.3" y="942.9" width="9" height="8.13" fill="#3c3b8e"/></g>
<rect x="1182.6" y="946.5" width="16.8" height="10.9" rx="2.2" fill="#fff" stroke="#9c9c9c" stroke-width="1.2"/>
<rect x="1187" y="944.6" width="1.6" height="2.8" fill="#c4c4c4"/><rect x="1193.4" y="944.6" width="1.6" height="2.8" fill="#c4c4c4"/>
<rect x="1182.6" y="946.2" width="16.8" height="1.6" fill="#a0a0a0"/>
<text x="1191" y="956" font-size="9.6" fill="#c6c6c6" font-weight="normal" text-anchor="middle" >2</text>
<rect x="1230.1999999999998" y="946.5" width="16.8" height="10.9" rx="2.2" fill="#fff" stroke="#9c9c9c" stroke-width="1.2"/>
<rect x="1234.6" y="944.6" width="1.6" height="2.8" fill="#c4c4c4"/><rect x="1241.0" y="944.6" width="1.6" height="2.8" fill="#c4c4c4"/>
<rect x="1230.1999999999998" y="946.2" width="16.8" height="1.6" fill="#a0a0a0"/>
<text x="1238.6" y="956" font-size="9.6" fill="#c6c6c6" font-weight="normal" text-anchor="middle" >6</text>
<rect x="1277.8999999999999" y="946.5" width="16.8" height="10.9" rx="2.2" fill="#fff" stroke="#9c9c9c" stroke-width="1.2"/>
<rect x="1282.3" y="944.6" width="1.6" height="2.8" fill="#c4c4c4"/><rect x="1288.7" y="944.6" width="1.6" height="2.8" fill="#c4c4c4"/>
<rect x="1277.8999999999999" y="946.2" width="16.8" height="1.6" fill="#a0a0a0"/>
<text x="1286.3" y="956" font-size="9.6" fill="#c6c6c6" font-weight="normal" text-anchor="middle" >6</text>
<rect x="1325.5" y="946.5" width="16.8" height="10.9" rx="2.2" fill="#fff" stroke="#9c9c9c" stroke-width="1.2"/>
<rect x="1329.9" y="944.6" width="1.6" height="2.8" fill="#c4c4c4"/><rect x="1336.3000000000002" y="944.6" width="1.6" height="2.8" fill="#c4c4c4"/>
<rect x="1325.5" y="946.2" width="16.8" height="1.6" fill="#a0a0a0"/>
<text x="1333.9" y="956" font-size="9.6" fill="#c6c6c6" font-weight="normal" text-anchor="middle" >5</text>
<rect x="1373.1999999999998" y="946.5" width="16.8" height="10.9" rx="2.2" fill="#fff" stroke="#9c9c9c" stroke-width="1.2"/>
<rect x="1377.6" y="944.6" width="1.6" height="2.8" fill="#c4c4c4"/><rect x="1384.0" y="944.6" width="1.6" height="2.8" fill="#c4c4c4"/>
<rect x="1373.1999999999998" y="946.2" width="16.8" height="1.6" fill="#a0a0a0"/>
<text x="1381.6" y="956" font-size="9.6" fill="#c6c6c6" font-weight="normal" text-anchor="middle" >9</text>
<rect x="1420.8" y="946.5" width="16.8" height="10.9" rx="2.2" fill="#fff" stroke="#9c9c9c" stroke-width="1.2"/>
<rect x="1425.2" y="944.6" width="1.6" height="2.8" fill="#c4c4c4"/><rect x="1431.6000000000001" y="944.6" width="1.6" height="2.8" fill="#c4c4c4"/>
<rect x="1420.8" y="946.2" width="16.8" height="1.6" fill="#a0a0a0"/>
<text x="1429.2" y="956" font-size="9.6" fill="#c6c6c6" font-weight="normal" text-anchor="middle" >6</text>
<rect x="1468.3999999999999" y="946.5" width="16.8" height="10.9" rx="2.2" fill="#fff" stroke="#9c9c9c" stroke-width="1.2"/>
<rect x="1472.8" y="944.6" width="1.6" height="2.8" fill="#c4c4c4"/><rect x="1479.2" y="944.6" width="1.6" height="2.8" fill="#c4c4c4"/>
<rect x="1468.3999999999999" y="946.2" width="16.8" height="1.6" fill="#a0a0a0"/>
<text x="1476.8" y="956" font-size="9.6" fill="#c6c6c6" font-weight="normal" text-anchor="middle" >6</text>
<rect x="1516.1" y="946.5" width="16.8" height="10.9" rx="2.2" fill="#fff" stroke="#9c9c9c" stroke-width="1.2"/>
<rect x="1520.5" y="944.6" width="1.6" height="2.8" fill="#c4c4c4"/><rect x="1526.9" y="944.6" width="1.6" height="2.8" fill="#c4c4c4"/>
<rect x="1516.1" y="946.2" width="16.8" height="1.6" fill="#a0a0a0"/>
<text x="1524.5" y="956" font-size="9.6" fill="#c6c6c6" font-weight="normal" text-anchor="middle" >3</text>
<rect x="1563.6999999999998" y="946.5" width="16.8" height="10.9" rx="2.2" fill="#fff" stroke="#9c9c9c" stroke-width="1.2"/>
<rect x="1568.1" y="944.6" width="1.6" height="2.8" fill="#c4c4c4"/><rect x="1574.5" y="944.6" width="1.6" height="2.8" fill="#c4c4c4"/>
<rect x="1563.6999999999998" y="946.2" width="16.8" height="1.6" fill="#a0a0a0"/>
<text x="1572.1" y="956" font-size="9.6" fill="#c6c6c6" font-weight="normal" text-anchor="middle" >2</text>
<rect x="1611.3999999999999" y="946.5" width="16.8" height="10.9" rx="2.2" fill="#fff" stroke="#9c9c9c" stroke-width="1.2"/>
<rect x="1615.8" y="944.6" width="1.6" height="2.8" fill="#c4c4c4"/><rect x="1622.2" y="944.6" width="1.6" height="2.8" fill="#c4c4c4"/>
<rect x="1611.3999999999999" y="946.2" width="16.8" height="1.6" fill="#a0a0a0"/>
<text x="1619.8" y="956" font-size="9.6" fill="#c6c6c6" font-weight="normal" text-anchor="middle" >4</text>
</svg>
</body></html>
